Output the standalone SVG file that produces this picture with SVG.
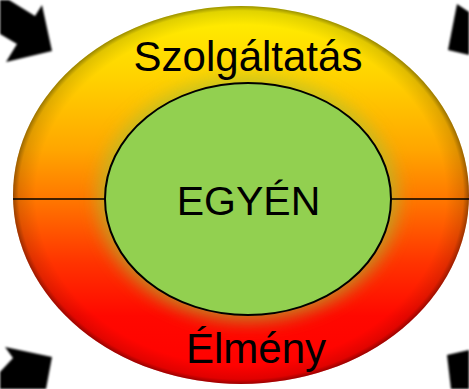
<svg xmlns="http://www.w3.org/2000/svg" width="469" height="389" viewBox="0 0 469 389">
<style>
.lbl{font-family:"Liberation Sans",Arial,sans-serif;font-size:42px;fill:#000;text-anchor:middle}
.arrow{fill:#000}
.line{stroke:#000;stroke-width:1.6;fill:none}
</style>
<defs>
<linearGradient id="warm" x1="0" y1="0" x2="0" y2="1">
<stop offset="0" stop-color="#FFF200"/>
<stop offset="0.18" stop-color="#FFD400"/>
<stop offset="0.38" stop-color="#FFA600"/>
<stop offset="0.52" stop-color="#FF7400"/>
<stop offset="0.68" stop-color="#FF3300"/>
<stop offset="0.82" stop-color="#FF0800"/>
<stop offset="1" stop-color="#FF0000"/>
</linearGradient>
<radialGradient id="rim" cx="0.5" cy="0.5" r="0.5">
<stop offset="0.9" stop-color="#000" stop-opacity="0"/>
<stop offset="0.975" stop-color="#000" stop-opacity="0.12"/>
<stop offset="1" stop-color="#000" stop-opacity="0.4"/>
</radialGradient>
<filter id="blur" x="-20%" y="-20%" width="140%" height="140%">
<feGaussianBlur stdDeviation="9"/>
</filter>
<filter id="soft" x="-10%" y="-10%" width="120%" height="120%">
<feGaussianBlur stdDeviation="1"/>
</filter>
</defs>
<rect width="469" height="389" fill="#fff"/>
<g id="arrows" filter="url(#soft)">
<polygon class="arrow" points="0,0 9,0 35,16 42,5 52,51 6,62 17,44 0,34"/>
<polygon class="arrow" points="457,4 469,12 469,55 448,50"/>
<polygon class="arrow" points="0,372 13,358 5,347 52,357 46,389 0,389"/>
<polygon class="arrow" points="447,355 469,350 469,389 451,389"/>
</g>
<g id="outer">
<ellipse cx="241" cy="195" rx="228" ry="189" fill="url(#warm)"/>
<ellipse cx="241" cy="195" rx="228" ry="189" fill="url(#rim)"/>
<ellipse cx="248" cy="199" rx="150" ry="122" fill="#A8C030" opacity="0.7" filter="url(#blur)"/>
</g>
<g id="connectors">
<line class="line" x1="13" y1="199" x2="106" y2="199"/>
<line class="line" x1="391" y1="199" x2="469" y2="199"/>
</g>
<g id="inner">
<ellipse cx="248" cy="199" rx="143" ry="116" fill="#92D050" stroke="#000" stroke-width="2"/>
<text class="lbl" x="248.5" y="215" font-size="41" style="font-size:41px">EGYÉN</text>
</g>
<g id="labels">
<text class="lbl" x="248" y="71">Szolgáltatás</text>
<text class="lbl" x="256" y="363">Élmény</text>
</g>
</svg>
